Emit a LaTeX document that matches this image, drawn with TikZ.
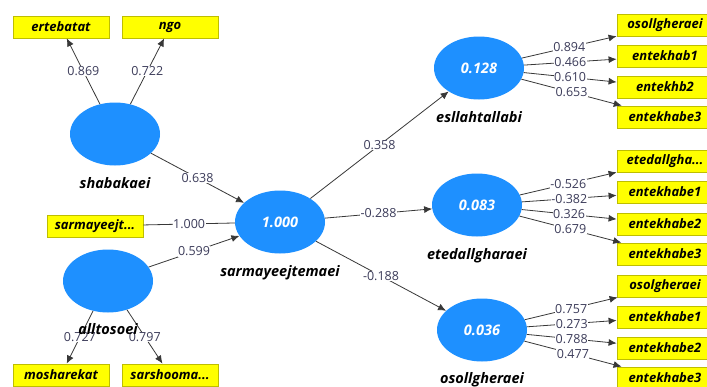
\documentclass[tikz,border=0pt]{standalone}
\usepackage{fontspec}
\setmainfont{Open Sans}
\usetikzlibrary{shapes.geometric, arrows.meta}
\definecolor{lvblue}{RGB}{30,144,255}
\definecolor{mvyellow}{RGB}{255,255,0}
\definecolor{mvborder}{RGB}{190,190,0}
\definecolor{coefgray}{RGB}{60,60,90}

\begin{document}
\begin{tikzpicture}[x = 1pt, y = -1pt,
    lv/.style = {ellipse, fill = lvblue, minimum width = 90pt,
      minimum height = 63pt, inner sep = 0pt, text = white,
      font = \bfseries\itshape\fontsize{14.5}{14.5}\selectfont},
    mv/.style = {rectangle, fill = mvyellow, draw = mvborder,
      line width = .8pt, minimum width = 96pt, minimum height = 22pt,
      inner sep = 0pt, font = \bfseries\itshape\fontsize{13}{13}\selectfont},
    lvname/.style = {font = \bfseries\itshape\fontsize{14.5}{14.5}\selectfont},
    coef/.style = {fill = white, inner sep = .5pt, text = coefgray,
      font = \fontsize{12.5}{12.5}\selectfont},
    link/.style = {draw = black!78, line width = .8pt},
    > = {Latex[length = 8pt, width = 7pt]}]
    \clip (0,0) rectangle (707,386);
    \fill [white] (0,0) rectangle (707,386);

    % latent variables
    \node [lv] (shab) at (115,134) {};
    \node [lv] (allt) at (108,281) {};
    \node [lv] (sarm) at (280,222) {1.000};
    \node [lv] (esl)  at (479,68)  {0.128};
    \node [lv] (eted) at (477,205) {0.083};
    \node [lv] (osol) at (482,330) {0.036};

    % indicators
    \node [mv] (ert)   at (61,27)   {ertebatat};
    \node [mv] (ngo)   at (170,27)  {ngo};
    \node [mv] (sj)    at (95,226)  {sarmayeejt...};
    \node [mv] (mosh)  at (61,375)  {mosharekat};
    \node [mv] (sarsh) at (170,375) {sarshooma...};
    \foreach \n/\y/\t in {e1/25/{osollgheraei}, e2/56/{entekhab1},
      e3/87/{entekhb2}, e4/117/{entekhabe3},
      t1/161/{etedallgha.{}.{}.}, t2/192/{entekhabe1},
      t3/224/{entekhabe2}, t4/254/{entekhabe3},
      o1/286/{osolgheraei}, o2/317/{entekhabe1},
      o3/348/{entekhabe2}, o4/378/{entekhabe3}} {
      \node [mv] (\n) at (665,\y) {\t};
    }

    % outer model
    \draw [link, ->] (shab) -- (ert) node [coef, midway] {0.869};
    \draw [link, ->] (shab) -- (ngo) node [coef, midway] {0.722};
    \draw [link] (sj) -- (sarm) node [coef, midway] {1.000};
    \draw [link, ->] (allt) -- (mosh) node [coef, midway] {0.727};
    \draw [link, ->] (allt) -- (sarsh) node [coef, midway] {0.797};
    \foreach \a/\b/\v in {esl/e1/0.894, esl/e2/0.466, esl/e3/0.610,
      esl/e4/0.653, eted/t1/-0.526, eted/t2/-0.382, eted/t3/0.326,
      eted/t4/0.679, osol/o1/0.757, osol/o2/0.273, osol/o3/0.788,
      osol/o4/0.477} {
      \draw [link, ->] (\a) -- (\b) node [coef, midway] {\v};
    }

    % inner model
    \draw [link, ->] (shab) -- (sarm) node [coef, midway] {0.638};
    \draw [link, ->] (allt) -- (sarm) node [coef, midway] {0.599};
    \draw [link, ->] (sarm) -- (esl) node [coef, midway] {0.358};
    \draw [link, ->] (sarm) -- (eted) node [coef, midway] {-0.288};
    \draw [link, ->] (sarm) -- (osol) node [coef, midway] {-0.188};

    % names
    \node [lvname] (shabname) at (115,183) {shabakaei};
    \node [lvname] (alltname) at (108,329) {alltosoei};
    \node [lvname] (sarmname) at (280,273) {sarmayeejtemaei};
    \node [lvname] (eslname)  at (479,117) {esllahtallabi};
    \node [lvname] (etedname) at (477,256) {etedallgharaei};
    \node [lvname] (osolname) at (482,380) {osollgheraei};
  \end{tikzpicture}
\end{document}
